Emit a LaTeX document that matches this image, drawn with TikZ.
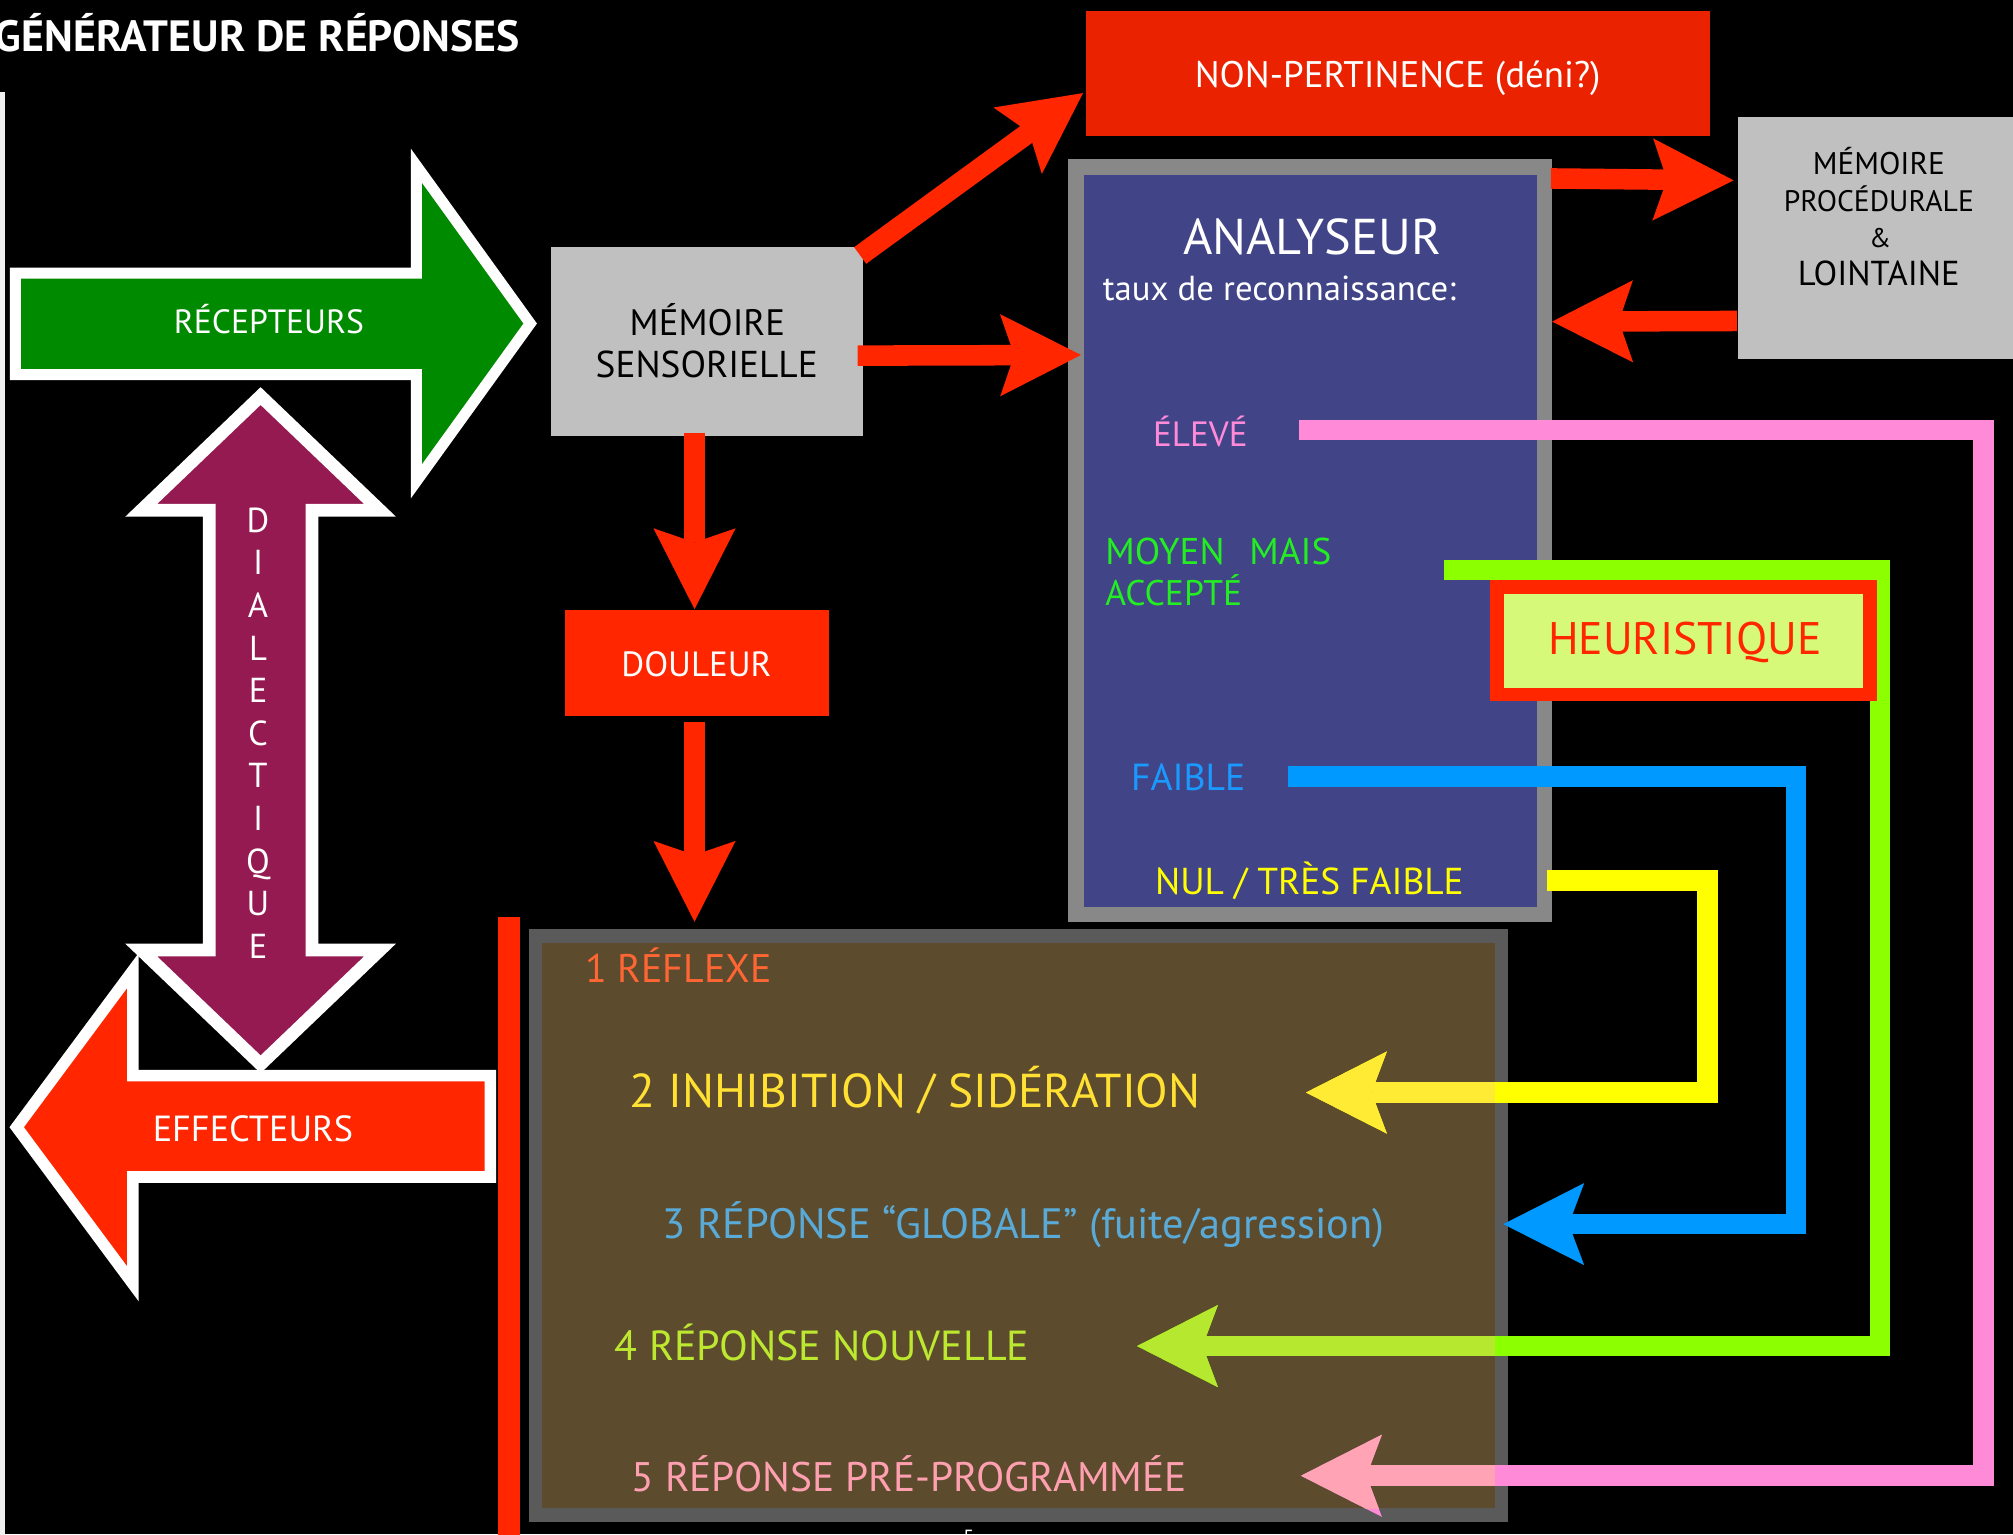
\documentclass[tikz,border=0pt]{standalone}
\usepackage{fontspec}
\setmainfont{PT Sans}
\usepackage{graphicx}
\usetikzlibrary{arrows.meta}

\definecolor{bgreen}{HTML}{008A00}
\definecolor{bpurple}{HTML}{951A52}
\definecolor{bred}{HTML}{FF2600}
\definecolor{bdred}{HTML}{EB2200}
\definecolor{bgrey}{HTML}{C0C0C0}
\definecolor{anbord}{HTML}{888888}
\definecolor{anfill}{HTML}{414487}
\definecolor{rpbord}{HTML}{5A5A5A}
\definecolor{rpfill}{HTML}{5C4B2D}
\definecolor{heufill}{HTML}{D7F979}
\definecolor{lpink}{HTML}{FF8AD8}
\definecolor{lgreen}{HTML}{8CFF00}
\definecolor{lblue}{HTML}{0099FF}
\definecolor{lyellow}{HTML}{FFFF00}
\definecolor{ipink}{HTML}{FFA3B5}
\definecolor{igreen}{HTML}{B5E82F}
\definecolor{iyellow}{HTML}{FFEB33}
\definecolor{tgreen}{HTML}{22EE22}
\definecolor{tblue}{HTML}{1A9AFF}
\definecolor{rorange}{HTML}{FF6633}
\definecolor{ryellow}{HTML}{FFE033}
\definecolor{rblue}{HTML}{5AAAD8}
\definecolor{rlime}{HTML}{BDE830}
\definecolor{rpink}{HTML}{FFA0B0}

\newcommand{\fitw}[2]{\resizebox{#1pt}{!}{#2}}

\begin{document}
\begin{tikzpicture}[x=1pt,y=-1pt,line join=miter,
  every node/.style={inner sep=0pt,outer sep=0pt},
  txt/.style={font=\fontsize{24}{28}\selectfont},
  boxnode/.style={rectangle,inner sep=0pt,outer sep=0pt},
  redarrow/.style={draw=bred,line width=16pt,-{Stealth[length=63pt,width=64pt,inset=11pt,line width=0pt]}},
  levelarrow/.style={line width=16pt,-{Stealth[length=63pt,width=64pt,inset=12pt,line width=0pt]}},
  blockarrow/.style={draw=white,line join=miter,miter limit=20},
  dialtxt/.style={text=white,font=\fontsize{27}{30}\selectfont,anchor=base}]

\useasboundingbox (0,0) rectangle (1568,1195);
\fill[black] (0,0) rectangle (1568,1195);

% thin left line
\fill[white!88!gray] (0,71.5) rectangle (3.6,1200);

% title
\node[txt,anchor=base west,text=white] (title) at (-4,40.3) {\fitw{409}{\bfseries GÉNÉRATEUR DE RÉPONSES}};

% RECEPTEURS block arrow
\filldraw[blockarrow,fill=bgreen,line width=8.5pt] (12,212.7) -- (324.3,212.7) -- (324.3,129) -- (413,252) -- (324.3,375) -- (324.3,291.8) -- (12,291.8) -- cycle;
\node[txt,anchor=base,text=white] (recep) at (209.5,259.5) {\fitw{148}{RÉCEPTEURS}};

% EFFECTEURS block arrow
\filldraw[blockarrow,fill=bred,line width=9pt] (13,878) -- (103.5,756) -- (103.5,837.8) -- (382,837.8) -- (382,916.8) -- (103.5,916.8) -- (103.5,1000) -- cycle;
\node[txt,anchor=base,text=white] (effect) at (197,889) {\fitw{156}{EFFECTEURS}};

% DIALECTIQUE double arrow
\filldraw[blockarrow,fill=bpurple,line width=10pt] (203,308.5) -- (296,397.5) -- (243,397.5) -- (243,740) -- (296,740) -- (203,829) -- (110,740) -- (163,740) -- (163,397.5) -- (110,397.5) -- cycle;
\foreach \l [count=\i from 0] in {D,I,A,L,E,C,T,I,Q,U,E}
  \node[dialtxt] (dial\i) at (201,{414.5+\i*33.2}) {\l};

% red vertical bar
\fill[bred] (388,714.5) rectangle (404.8,1200);

% boxes
\node[boxnode,fill=bgrey,minimum width=243pt,minimum height=147pt] (memsens) at (551,266) {};
\node[boxnode,fill=bdred,minimum width=485.6pt,minimum height=97.1pt] (nonpert) at (1088.8,57.15) {};
\node[boxnode,fill=anfill,draw=anbord,line width=12pt,minimum width=365pt,minimum height=582pt] (analyseur) at (1020.6,421.2) {};
\node[boxnode,fill=bgrey,minimum width=226.6pt,minimum height=188.6pt] (memproc) at (1466.7,185.3) {};
\node[boxnode,fill=bred,minimum width=206pt,minimum height=82.5pt] (douleur) at (543,516.25) {};
\node[boxnode,fill=rpfill,draw=rpbord,line width=10.5pt,minimum width=752.7pt,minimum height=451pt] (reponses) at (793.35,954.5) {};

% box texts
\node[txt,anchor=base] (memsensA) at (551,261) {\fitw{121}{MÉMOIRE}};
\node[txt,anchor=base] (memsensB) at (550.5,293.7) {\fitw{173}{SENSORIELLE}};
\node[txt,anchor=base,text=white] (nonpertT) at (1088.7,68) {\fitw{316}{NON-PERTINENCE (déni?)}};
\node[txt,anchor=base] (memprocA) at (1463.5,136.3) {\fitw{103}{MÉMOIRE}};
\node[txt,anchor=base] (memprocB) at (1463.5,165) {\fitw{148}{PROCÉDURALE}};
\node[anchor=base,font=\fontsize{21}{24}\selectfont] (memprocC) at (1464.5,193) {\&};
\node[txt,anchor=base] (memprocD) at (1463.5,222) {\fitw{126}{LOINTAINE}};
\node[txt,anchor=base,text=white] (douleurT) at (542.5,527) {\fitw{117}{DOULEUR}};

% analyseur texts
\node[txt,anchor=base,text=white] (anTitle) at (1022,198.6) {\fitw{201}{ANALYSEUR}};
\node[txt,anchor=base west,text=white] (anTaux) at (859,233.7) {\fitw{275}{taux de reconnaissance:}};
\node[txt,anchor=base,text=lpink] (lvEleve) at (935,348) {\fitw{73.6}{ÉLEVÉ}};
\node[txt,anchor=base west,text=tgreen] (lvMoyenA) at (861,440) {\fitw{176}{MOYEN\hspace{0.4em} MAIS}};
\node[txt,anchor=base west,text=tgreen] (lvMoyenB) at (861,472) {\fitw{106.5}{ACCEPTÉ}};
\node[txt,anchor=base west,text=tblue] (lvFaible) at (881,616) {\fitw{89}{FAIBLE}};
\node[txt,anchor=base west,text=lyellow] (lvNul) at (899.7,696.6) {\fitw{240.5}{NUL / TRÈS FAIBLE}};

% response texts
\node[txt,anchor=base west,text=rorange] (r1) at (456,765) {\fitw{145}{1 RÉFLEXE}};
\node[txt,anchor=base west,text=ryellow] (r2) at (490.4,863) {\fitw{444.6}{2 INHIBITION / SIDÉRATION}};
\node[txt,anchor=base west,text=rblue] (r3) at (516.3,964.5) {\fitw{561.8}{3 RÉPONSE “GLOBALE” (fuite/agression)}};
\node[txt,anchor=base west,text=rlime] (r4) at (479,1060) {\fitw{322.8}{4 RÉPONSE NOUVELLE}};
\node[txt,anchor=base west,text=rpink] (r5) at (492,1162) {\fitw{432.5}{5 RÉPONSE PRÉ-PROGRAMMÉE}};

% red arrows
\coordinate (msTop) at (670,199);
\coordinate (npIn) at (843.6,72.5);
\coordinate (msRight) at (668,277);
\coordinate (anIn) at (842,276.5);
\coordinate (msBot) at (541,337);
\coordinate (dlTop) at (541,474.5);
\coordinate (dlBot) at (541,562);
\coordinate (rpTop) at (541,718);
\coordinate (anOut) at (1208,139);
\coordinate (mpIn) at (1350.4,140.5);
\coordinate (mpOut) at (1353,250);
\coordinate (anBack) at (1209,250.5);
\draw[redarrow] (msTop) -- (npIn);
\draw[redarrow] (msRight) -- (anIn);
\draw[redarrow] (msBot) -- (dlTop);
\draw[redarrow] (dlBot) -- (rpTop);
\draw[redarrow] (anOut) -- (mpIn);
\draw[redarrow] (mpOut) -- (anBack);

% level connectors
\coordinate (pinkS) at (1012,335);
\coordinate (pinkE) at (1013.4,1149.5);
\coordinate (greenS) at (1124.6,444);
\coordinate (greenE) at (885.7,1048.5);
\coordinate (blueS) at (1003,605);
\coordinate (blueE) at (1171,953.5);
\coordinate (yellowS) at (1205,686);
\coordinate (yellowE) at (1017.3,851);
\draw[levelarrow,draw=lpink] (pinkS) -- (1545,335) -- (1545,1149.5) -- (pinkE);
\draw[levelarrow,draw=lgreen] (greenS) -- (1464.5,444) -- (1464.5,1048.5) -- (greenE);
\draw[levelarrow,draw=lblue] (blueS) -- (1399,605) -- (1399,953.5) -- (blueE);
\draw[levelarrow,draw=lyellow] (yellowS) -- (1330,686) -- (1330,851) -- (yellowE);
\begin{scope}
  \clip (422,734) rectangle (1164.3,1174.7);
  \draw[levelarrow,draw=ipink] (1545,1149.5) -- (pinkE);
  \draw[levelarrow,draw=igreen] (1464.5,1048.5) -- (greenE);
  \draw[levelarrow,draw=iyellow] (1330,851) -- (yellowE);
\end{scope}

% heuristique
\node[boxnode,fill=heufill,draw=bred,line width=10.6pt,minimum width=290.8pt,minimum height=84pt] (heur) at (1311.4,499) {};
\node[txt,anchor=base,text=bred] (heurT) at (1312.3,509.7) {\fitw{213}{HEURISTIQUE}};

% page number remnant
\node[anchor=north,text=white,font=\fontsize{16}{16}\selectfont] (pagenum) at (754.5,1191.5) {5};
\end{tikzpicture}
\end{document}
